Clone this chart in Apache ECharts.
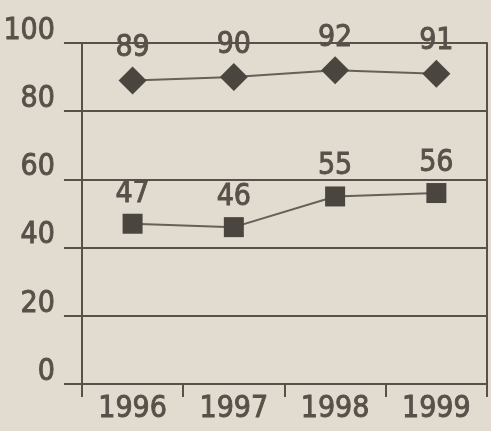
<!DOCTYPE html>
<html>
<head>
<meta charset="utf-8">
<script src="https://cdn.jsdelivr.net/npm/echarts@6/dist/echarts.min.js"></script>
<style>
  html, body { margin: 0; padding: 0; background: #e2dbcf; }
  #chart { width: 491px; height: 431px; }
</style>
</head>
<body>
<div id="chart"></div>
<script>
var years = ['1996', '1997', '1998', '1999'];
var upperValues = [89, 90, 92, 91];
var lowerValues = [47, 46, 55, 56];
var yTicks = [0, 20, 40, 60, 80, 100];

var ink = '#57514a';
var font = '"DejaVu Sans Condensed", "DejaVu Sans", sans-serif';

// shared look of every number on the chart
function textStyle(extra) {
    var s = {
        color: ink, fontFamily: font, fontSize: 30,
        textBorderColor: ink, textBorderWidth: 0.9
    };
    for (var k in extra) { s[k] = extra[k]; }
    return s;
}

var chart = echarts.init(document.getElementById('chart'));

var option = {
    backgroundColor: '#e2dbcf',
    animation: false,
    grid: { left: 78, right: 4, top: 43, bottom: 47 },
    xAxis: {
        type: 'category',
        data: years,
        boundaryGap: true,
        axisLine: { lineStyle: { color: ink, width: 2 } },
        axisTick: { show: true, length: 13, lineStyle: { color: ink, width: 2 } },
        axisLabel: textStyle({ margin: 10 })
    },
    yAxis: [{
        type: 'value',
        min: 0,
        max: 100,
        interval: 20,
        axisLine: { show: true, lineStyle: { color: ink, width: 2 } },
        axisTick: { show: true, length: 18, lineStyle: { color: ink, width: 2 } },
        axisLabel: textStyle({
            margin: 27, verticalAlign: 'bottom', lineHeight: 24,
            formatter: function (v) { return yTicks.indexOf(v) >= 0 ? String(v) : ''; }
        }),
        splitLine: { show: true, lineStyle: { color: ink, width: 2 } }
    }, {
        type: 'value',
        position: 'right',
        min: 0,
        max: 100,
        interval: 20,
        axisLine: { show: true, lineStyle: { color: ink, width: 2 } },
        axisTick: { show: false },
        axisLabel: { show: false },
        splitLine: { show: false }
    }],
    series: [{
        name: 'upper',
        type: 'line',
        data: upperValues,
        symbol: 'diamond',
        symbolSize: [28, 28],
        itemStyle: { color: '#4b453f' },
        lineStyle: { color: '#666059', width: 2 },
        label: textStyle({ show: true, position: 'top', distance: 3 })
    }, {
        name: 'lower',
        type: 'line',
        data: lowerValues,
        symbol: 'rect',
        symbolSize: 20,
        itemStyle: { color: '#4b453f' },
        lineStyle: { color: '#666059', width: 2 },
        label: textStyle({ show: true, position: 'top', distance: 5 })
    }]
};

chart.setOption(option);
</script>
</body>
</html>
